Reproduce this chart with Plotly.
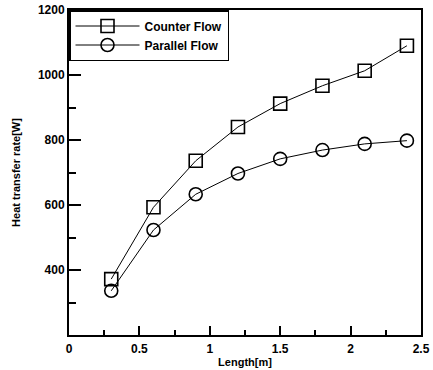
import plotly.graph_objects as go

length_m = [0.3, 0.6, 0.9, 1.2, 1.5, 1.8, 2.1, 2.4]
counter_flow = [372, 593, 736, 840, 912, 967, 1013, 1090]
parallel_flow = [336, 523, 633, 697, 742, 769, 788, 798]

x_tickvals = [0, 0.5, 1, 1.5, 2, 2.5]
x_ticktext = ["0", "0.5", "1", "1.5", "2", "2.5"]
y_tickvals = [400, 600, 800, 1000, 1200]
y_ticktext = ["400", "600", "800", "1000", "1200"]

font_family = "Liberation Sans, Arial, sans-serif"

fig = go.Figure()
fig.add_trace(go.Scatter(
    x=length_m, y=counter_flow, name="<b>Counter Flow</b>",
    mode="lines+markers",
    line=dict(color="black", width=1),
    marker=dict(symbol="square-open", size=13, color="black", line=dict(width=1.6)),
))
fig.add_trace(go.Scatter(
    x=length_m, y=parallel_flow, name="<b>Parallel Flow</b>",
    mode="lines+markers",
    line=dict(color="black", width=1),
    marker=dict(symbol="circle-open", size=13, color="black", line=dict(width=1.6)),
))

fig.update_layout(
    width=433, height=370,
    margin=dict(l=69, r=12, t=10, b=35),
    paper_bgcolor="white", plot_bgcolor="white",
    font=dict(family=font_family, color="black", size=11),
    showlegend=True,
    legend=dict(
        x=0, y=1, xanchor="left", yanchor="top",
        bgcolor="white", bordercolor="black", borderwidth=1.5,
        font=dict(family=font_family, size=12, color="black"),
        itemwidth=64, tracegroupgap=0,
    ),
)
fig.update_xaxes(
    range=[0, 2.5], tickvals=x_tickvals, ticktext=x_ticktext,
    showgrid=False, zeroline=False, automargin=False,
    showline=True, linecolor="black", linewidth=2, mirror=True,
    ticks="inside", ticklen=9, tickwidth=2, tickcolor="black",
    minor=dict(dtick=0.25, tick0=0, ticks="inside", ticklen=5, tickwidth=2, tickcolor="black"),
    tickfont=dict(family=font_family, size=12, color="black", weight="bold"),
    ticklabelstandoff=2,
    title=dict(text="<b>Length[m]</b>", font=dict(family=font_family, size=11, color="black"), standoff=0),
)
fig.update_yaxes(
    range=[200, 1200], tickvals=y_tickvals, ticktext=y_ticktext,
    showgrid=False, zeroline=False, automargin=False,
    showline=True, linecolor="black", linewidth=2, mirror=True,
    ticks="inside", ticklen=12, tickwidth=2, tickcolor="black",
    minor=dict(dtick=100, tick0=200, ticks="inside", ticklen=7, tickwidth=2, tickcolor="black"),
    tickfont=dict(family=font_family, size=12, color="black", weight="bold"),
    title=dict(text="<b>Heat transfer rate[W]</b>", font=dict(family=font_family, size=11, color="black"), standoff=15),
)

fig.write_html("out.html", config={"displayModeBar": False},
               post_script="document.body.style.margin='0';")
